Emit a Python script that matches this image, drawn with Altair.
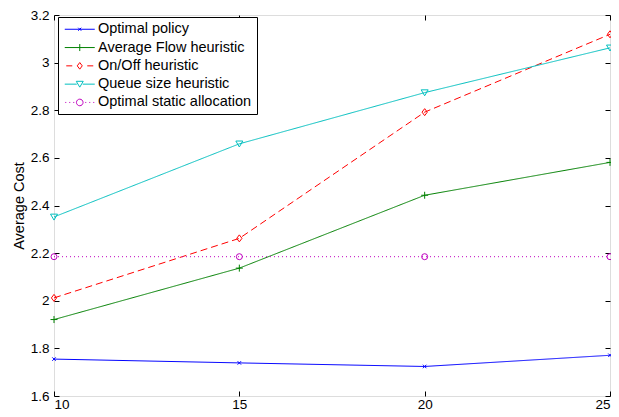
import altair as alt
import pandas as pd

# ---- data ----
x_values = [10, 15, 20, 25]
series_names = [
    "Optimal policy",
    "Average Flow heuristic",
    "On/Off heuristic",
    "Queue size heuristic",
    "Optimal static allocation",
]
optimal_policy = [1.755, 1.739, 1.724, 1.771]
average_flow = [1.921, 2.137, 2.443, 2.581]
on_off = [2.012, 2.262, 2.792, 3.119]
queue_size = [2.352, 2.659, 2.874, 3.062]
static_alloc = [2.185, 2.185, 2.185, 2.185]
x_ticks = [10, 15, 20, 25]
y_ticks = [1.6, 1.8, 2.0, 2.2, 2.4, 2.6, 2.8, 3.0, 3.2]

# ---- styles ----
FONT = "Liberation Sans"
W, H = 556, 381
colors = ["#0000ff", "#008000", "#ff0000", "#00bfbf", "#bf00bf"]
line_styles = ["solid", "solid", "dashed", "solid", "dotted"]
dash_domain = ["solid", "dashed", "dotted"]
dash_range = [[1, 0], [7, 4], [1, 3]]

series_values = [optimal_policy, average_flow, on_off, queue_size, static_alloc]
rows = []
for name, vals, style, col in zip(series_names, series_values, line_styles, colors):
    for xv, yv in zip(x_values, vals):
        rows.append({"series": name, "style": style, "line_color": col, "x": xv, "y": yv})
df = pd.DataFrame(rows)

marker_paths = [
    "M-1,-1L1,1M-1,1L1,-1",
    "M0,-1V1M-1,0H1",
    "M0,-1L0.75,0L0,1L-0.75,0Z",
    "M-1,-0.8L1,-0.8L0,0.9Z",
    "circle",
]
marker_sizes = [12, 49, 49, 49, 36]

# legend glyphs: a 30px line segment with the marker (unit = 5px at symbolSize 100)
dots = "".join(f"M{v:.2f},0H{v + 0.2:.2f}" for v in [-2.9, -2.1, -1.3, 1.1, 1.9, 2.7])
legend_paths = [
    "M-3,0H3M-0.3,-0.3L0.3,0.3M-0.3,0.3L0.3,-0.3",
    "M-3,0H3M0,-0.7V0.7",
    "M-2.7,0H-1.5M1.5,0H2.7M0,-0.66L0.5,0L0,0.66L-0.5,0Z",
    "M-3,0H-0.6M0.6,0H3M-0.7,-0.57L0.7,-0.57L0,0.6Z",
    dots + "M0.66,0A0.66,0.66 0 1,1 -0.66,0A0.66,0.66 0 1,1 0.66,0",
]

xs = alt.Scale(domain=[10, 25], nice=False, zero=False)
ys = alt.Scale(domain=[1.6, 3.2], nice=False, zero=False)

common_axis = dict(
    grid=False, domain=False, tickSize=5, offset=-5, tickColor="black",
    tickWidth=1, labelColor="black", labelFont=FONT, labelFontSize=13.5,
)
x_axis_bottom = alt.Axis(values=x_ticks, title=None, labelPadding=1, format="~g", **common_axis)
y_axis_left = alt.Axis(
    values=y_ticks, format="~g", labelPadding=5, title="Average Cost",
    titleFont=FONT, titleFontSize=14.5, titleFontWeight="normal", titleColor="black",
    titlePadding=4, **common_axis,
)
x_axis_top = alt.Axis(values=x_ticks, title=None, labels=False, orient="top", **common_axis)
y_axis_right = alt.Axis(values=y_ticks, title=None, labels=False, orient="right", **common_axis)

legend_kw = dict(
    title=None, orient="none", legendX=4, legendY=2, padding=5,
    strokeColor="black", fillColor="white", labelFont=FONT, labelFontSize=14.5,
    labelColor="black", symbolSize=100, symbolStrokeWidth=1, symbolOffset=9.5,
    labelOffset=11, rowPadding=3.3, labelLimit=400,
)

lines = alt.Chart(df).mark_line(strokeWidth=1).encode(
    x=alt.X("x:Q", scale=xs, axis=x_axis_bottom),
    y=alt.Y("y:Q", scale=ys, axis=y_axis_left),
    stroke=alt.Stroke("line_color:N", scale=None),
    strokeDash=alt.StrokeDash("style:N", scale=alt.Scale(domain=dash_domain, range=dash_range), legend=None),
    detail="series:N",
    order="x:Q",
)

point_layers = []
for i, (name, shp, sz, col) in enumerate(zip(series_names, marker_paths, marker_sizes, colors)):
    last = i == len(series_names) - 1
    pl = alt.Chart(df).transform_filter(alt.datum.series == name).mark_point(
        shape=shp, size=sz, color=col, filled=False, strokeWidth=1, opacity=1
    ).encode(
        x=alt.X("x:Q", scale=xs, axis=x_axis_top if last else None),
        y=alt.Y("y:Q", scale=ys, axis=y_axis_right if last else None),
    )
    point_layers.append(pl)

legend_layer = alt.Chart(df).transform_filter("false").mark_point(
    filled=False, strokeWidth=1, opacity=1
).encode(
    color=alt.Color("series:N", scale=alt.Scale(domain=series_names, range=colors),
                    legend=alt.Legend(**legend_kw)),
    shape=alt.Shape("series:N", scale=alt.Scale(domain=series_names, range=legend_paths),
                    legend=alt.Legend(**legend_kw)),
)

chart = alt.layer(lines, *point_layers, legend_layer).resolve_axis(
    x="independent", y="independent"
).properties(
    width=W, height=H,
    autosize=alt.AutoSizeParams(type="none"),
    padding={"left": 46, "top": 7, "right": 1, "bottom": 20},
).configure_view(stroke="black", strokeWidth=1).configure(background="white")

chart.save("out.html", embed_options={"renderer": "svg", "actions": False})
